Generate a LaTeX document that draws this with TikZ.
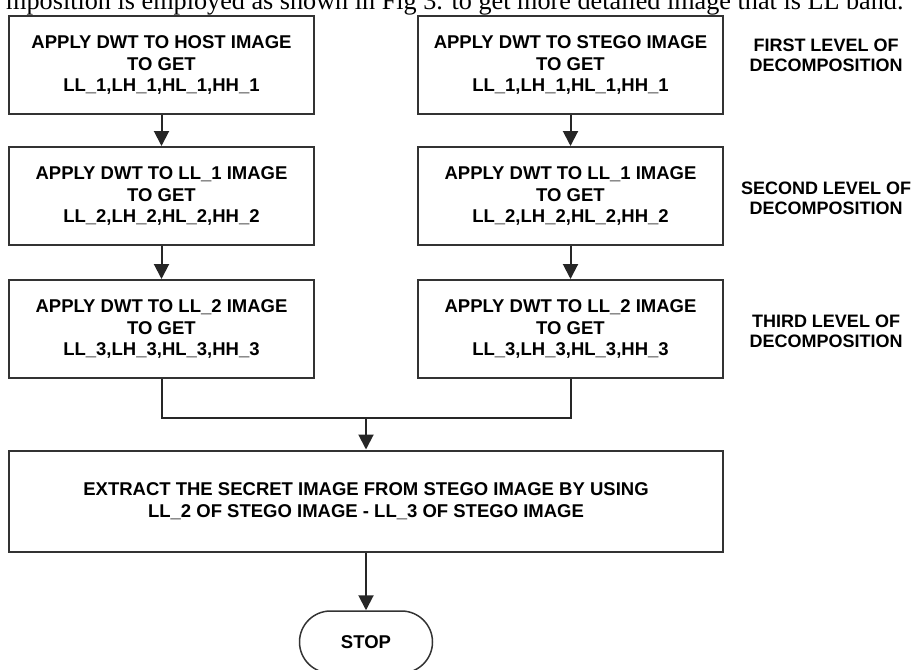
\documentclass[tikz,border=0pt]{standalone}
\usepackage{fontspec}
\setmainfont{Liberation Sans}
\newfontfamily\introfont{Liberation Serif}
\usetikzlibrary{positioning,arrows.meta}

\begin{document}
\begin{tikzpicture}[x=1pt,y=-1pt,>={Triangle[length=15pt,width=15pt]},
  box/.style={draw=black!80,line width=2pt,minimum width=305pt,minimum height=98pt,align=center,inner sep=0pt,font=\fontsize{18.5}{21.5}\selectfont\bfseries},
  lvl/.style={align=center,font=\fontsize{18}{20}\selectfont\bfseries},
  flow/.style={line width=2pt,draw=black!85}]
\useasboundingbox (0,0) rectangle (912,669);
\node[anchor=base east,font=\introfont\fontsize{26.2}{28}\selectfont] (intro) at (907,10) {mposition is employed as shown in Fig 3. to get more detailed image that is LL band.};
% host image column
\node[box] (h1) at (161.5,65) {APPLY DWT TO HOST IMAGE\\TO GET\\LL\_1,LH\_1,HL\_1,HH\_1};
\node[box] (h2) at (161.5,196) {APPLY DWT TO LL\_1 IMAGE\\TO GET\\LL\_2,LH\_2,HL\_2,HH\_2};
\node[box] (h3) at (161.5,329) {APPLY DWT TO LL\_2 IMAGE\\TO GET\\LL\_3,LH\_3,HL\_3,HH\_3};
% stego image column
\node[box] (s1) at (570.5,65) {APPLY DWT TO STEGO IMAGE\\TO GET\\LL\_1,LH\_1,HL\_1,HH\_1};
\node[box] (s2) at (570.5,196) {APPLY DWT TO LL\_1 IMAGE\\TO GET\\LL\_2,LH\_2,HL\_2,HH\_2};
\node[box] (s3) at (570.5,329) {APPLY DWT TO LL\_2 IMAGE\\TO GET\\LL\_3,LH\_3,HL\_3,HH\_3};
% levels
\node[lvl] (lvl1) at (826,55) {FIRST LEVEL OF\\DECOMPOSITION};
\node[lvl] (lvl2) at (826,198) {SECOND LEVEL OF\\DECOMPOSITION};
\node[lvl] (lvl3) at (826,331) {THIRD LEVEL OF\\DECOMPOSITION};
% extraction and stop
\node[box,minimum width=714pt,minimum height=101pt] (extract) at (366,501) {EXTRACT THE SECRET IMAGE FROM STEGO IMAGE BY USING\\LL\_2 OF STEGO IMAGE - LL\_3 OF STEGO IMAGE};
\node[box,minimum width=133pt,minimum height=62pt,rounded corners=31pt,line width=1.5pt] (stop) at (366,642) {STOP};
\coordinate (join) at (366,418);
\draw[flow,->] (h1) -- (h2);
\draw[flow,->] (h2) -- (h3);
\draw[flow,->] (s1) -- (s2);
\draw[flow,->] (s2) -- (s3);
\draw[flow] (h3.south) |- (join) -| (s3.south);
\draw[flow,->] (join) -- (extract);
\draw[flow,->] (extract) -- (stop);
\end{tikzpicture}
\end{document}
